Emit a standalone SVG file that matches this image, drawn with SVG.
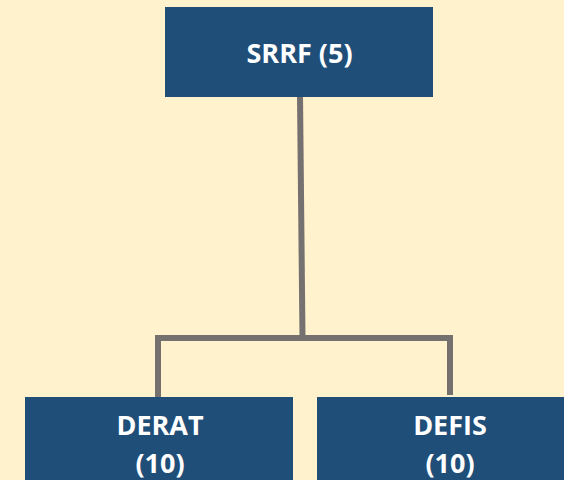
<svg xmlns="http://www.w3.org/2000/svg" width="564" height="480" viewBox="0 0 564 480">
<style>
.box{fill:#1F4E79}
.lbl{fill:#FFFFFF;font-family:"Open Sans","Liberation Sans",Arial,sans-serif;font-weight:bold;font-size:27px;text-anchor:middle}
.conn{stroke:#767171;stroke-width:6;fill:none}
</style>
<rect width="564" height="480" fill="#FFF2CC"/>
<g id="connectors">
<line class="conn" x1="300" y1="96" x2="302.5" y2="338"/>
<polyline class="conn" points="158,397 158,338 450,338 450,395"/>
</g>
<g id="srrf">
<rect class="box" x="165" y="7" width="268" height="90"/>
<text class="lbl" x="299.5" y="63">SRRF (5)</text>
</g>
<g id="derat">
<rect class="box" x="25" y="397" width="268" height="90"/>
<text class="lbl" x="160" y="435">DERAT</text>
<text class="lbl" x="160" y="473">(10)</text>
</g>
<g id="defis">
<rect class="box" x="317" y="397" width="268" height="90"/>
<text class="lbl" x="450" y="435">DEFIS</text>
<text class="lbl" x="450" y="473">(10)</text>
</g>
</svg>
